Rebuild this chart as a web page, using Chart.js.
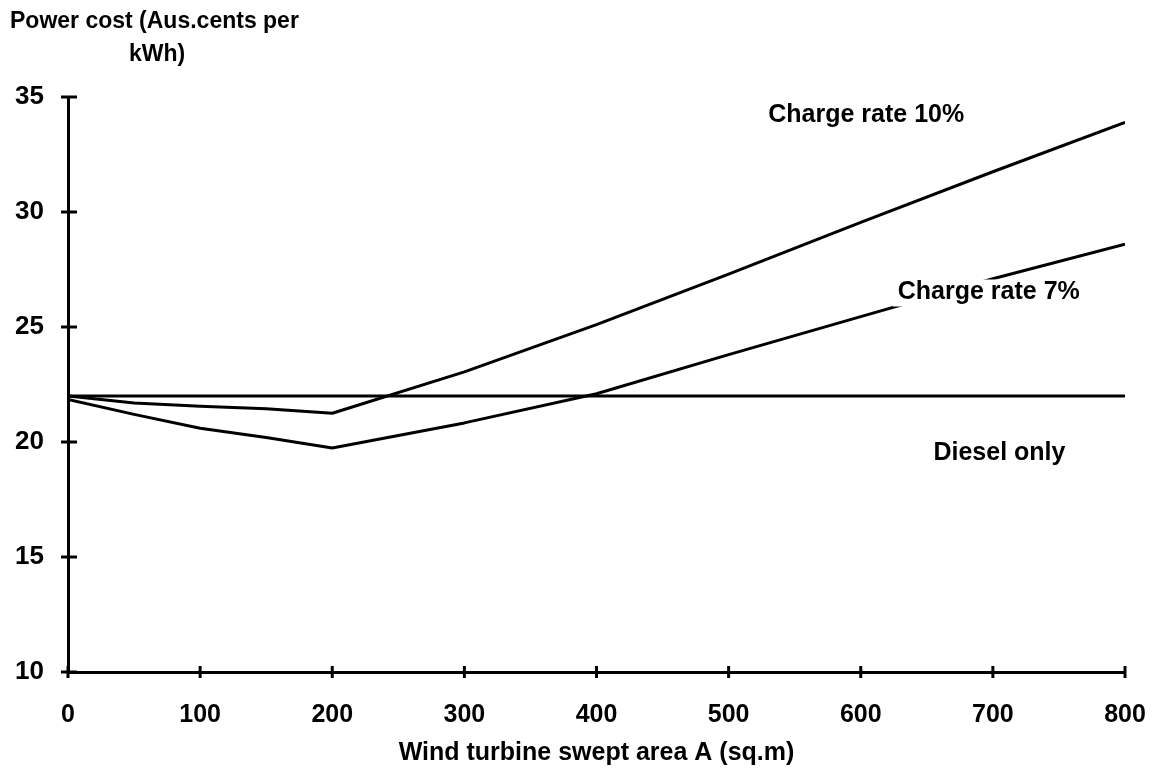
<!DOCTYPE html>
<html>
<head>
<meta charset="utf-8">
<script src="https://cdn.jsdelivr.net/npm/chart.js@4"></script>
<style>
  html, body { margin: 0; padding: 0; background: #fff; }
  #wrap { width: 1155px; height: 768px; position: relative; }
</style>
</head>
<body>
<div id="wrap"><canvas id="chart" width="1155" height="768"></canvas></div>
<script>
// values
const sweptArea = [0, 50, 100, 150, 200, 300, 400, 500, 600, 700, 800];
const charge10 = [22.0, 21.7, 21.55, 21.45, 21.25, 23.05, 25.1, 27.3, 29.55, 31.75, 33.9];
const charge7 = [21.85, 21.2, 20.6, 20.2, 19.74, 20.83, 22.1, 23.8, 25.45, 27.1, 28.6];
const dieselArea = [0, 800];
const dieselCost = [22, 22];
const xTicks = [0, 100, 200, 300, 400, 500, 600, 700, 800];
const yTicks = [10, 15, 20, 25, 30, 35];

const FONT = '"Liberation Sans", Arial, sans-serif';

// labels placed in data units
const notes = [
  { text: 'Charge rate 10%', x: 530, y: 34.2, box: false },
  { text: 'Charge rate 7%', x: 628, y: 26.5, box: true },
  { text: 'Diesel only', x: 655, y: 19.5, box: false },
];

const toPoints = (xs, ys) => xs.map((x, i) => ({ x, y: ys[i] }));

const lineStyle = {
  borderColor: '#000',
  borderWidth: 3,
  pointRadius: 0,
  tension: 0,
  fill: false,
  borderJoinStyle: 'round',
};

const crossTicks = {
  id: 'crossTicks',
  afterDraw(chart) {
    const { ctx, scales: { x, y } } = chart;
    ctx.save();
    ctx.strokeStyle = '#000';
    ctx.lineWidth = 3;
    for (const v of yTicks) {
      const py = y.getPixelForValue(v);
      ctx.beginPath();
      ctx.moveTo(x.left - 7, py);
      ctx.lineTo(x.left + 9, py);
      ctx.stroke();
    }
    for (const v of xTicks) {
      const px = x.getPixelForValue(v);
      ctx.beginPath();
      ctx.moveTo(px, y.bottom - 6);
      ctx.lineTo(px, y.bottom + 6);
      ctx.stroke();
    }
    ctx.restore();
  },
};

const textNotes = {
  id: 'textNotes',
  afterDatasetsDraw(chart) {
    const { ctx, scales: { x, y } } = chart;
    ctx.save();
    ctx.font = 'bold 25px ' + FONT;
    ctx.textBaseline = 'middle';
    ctx.textAlign = 'left';
    for (const n of notes) {
      const px = x.getPixelForValue(n.x);
      const py = y.getPixelForValue(n.y);
      if (n.box) {
        const w = ctx.measureText(n.text).width;
        ctx.fillStyle = '#fff';
        ctx.fillRect(px - 5, py - 13, w + 8, 27);
      }
      ctx.fillStyle = '#000';
      ctx.fillText(n.text, px, py);
    }
    // y axis title, top left
    ctx.font = 'bold 23px ' + FONT;
    ctx.fillText('Power cost (Aus.cents per', 10, 22);
    ctx.textAlign = 'center';
    ctx.fillText('kWh)', 157, 55);
    ctx.restore();
  },
};

new Chart(document.getElementById('chart'), {
  type: 'line',
  data: {
    datasets: [
      { label: 'Diesel only', data: toPoints(dieselArea, dieselCost), ...lineStyle },
      { label: 'Charge rate 10%', data: toPoints(sweptArea, charge10), ...lineStyle },
      { label: 'Charge rate 7%', data: toPoints(sweptArea, charge7), ...lineStyle },
    ],
  },
  options: {
    responsive: false,
    animation: false,
    devicePixelRatio: 1,
    layout: { padding: { top: 97, right: 30, bottom: 0, left: 0 } },
    plugins: {
      legend: { display: false },
      tooltip: { enabled: false },
    },
    scales: {
      x: {
        type: 'linear',
        min: 0,
        max: 800,
        afterFit: s => { s.height = 96; s.paddingLeft = 0; s.paddingRight = 0; },
        afterBuildTicks: s => { s.ticks = xTicks.map(v => ({ value: v })); },
        border: { color: '#000', width: 3 },
        grid: { display: false, drawTicks: false },
        ticks: {
          padding: 28,
          color: '#000',
          font: { family: FONT, size: 25, weight: 'bold' },
        },
        title: {
          display: true,
          text: 'Wind turbine swept area A (sq.m)',
          color: '#000',
          padding: { top: 0, bottom: 0 },
          font: { family: FONT, size: 25, weight: 'bold' },
        },
      },
      y: {
        min: 10,
        max: 35,
        afterFit: s => { s.width = 68; s.paddingTop = 0; s.paddingBottom = 0; },
        afterBuildTicks: s => { s.ticks = yTicks.map(v => ({ value: v })); },
        border: { color: '#000', width: 3 },
        grid: { display: false, drawTicks: false },
        ticks: {
          padding: 24,
          color: '#000',
          font: { family: FONT, size: 26, weight: 'bold' },
        },
      },
    },
  },
  plugins: [crossTicks, textNotes],
});
</script>
</body>
</html>
